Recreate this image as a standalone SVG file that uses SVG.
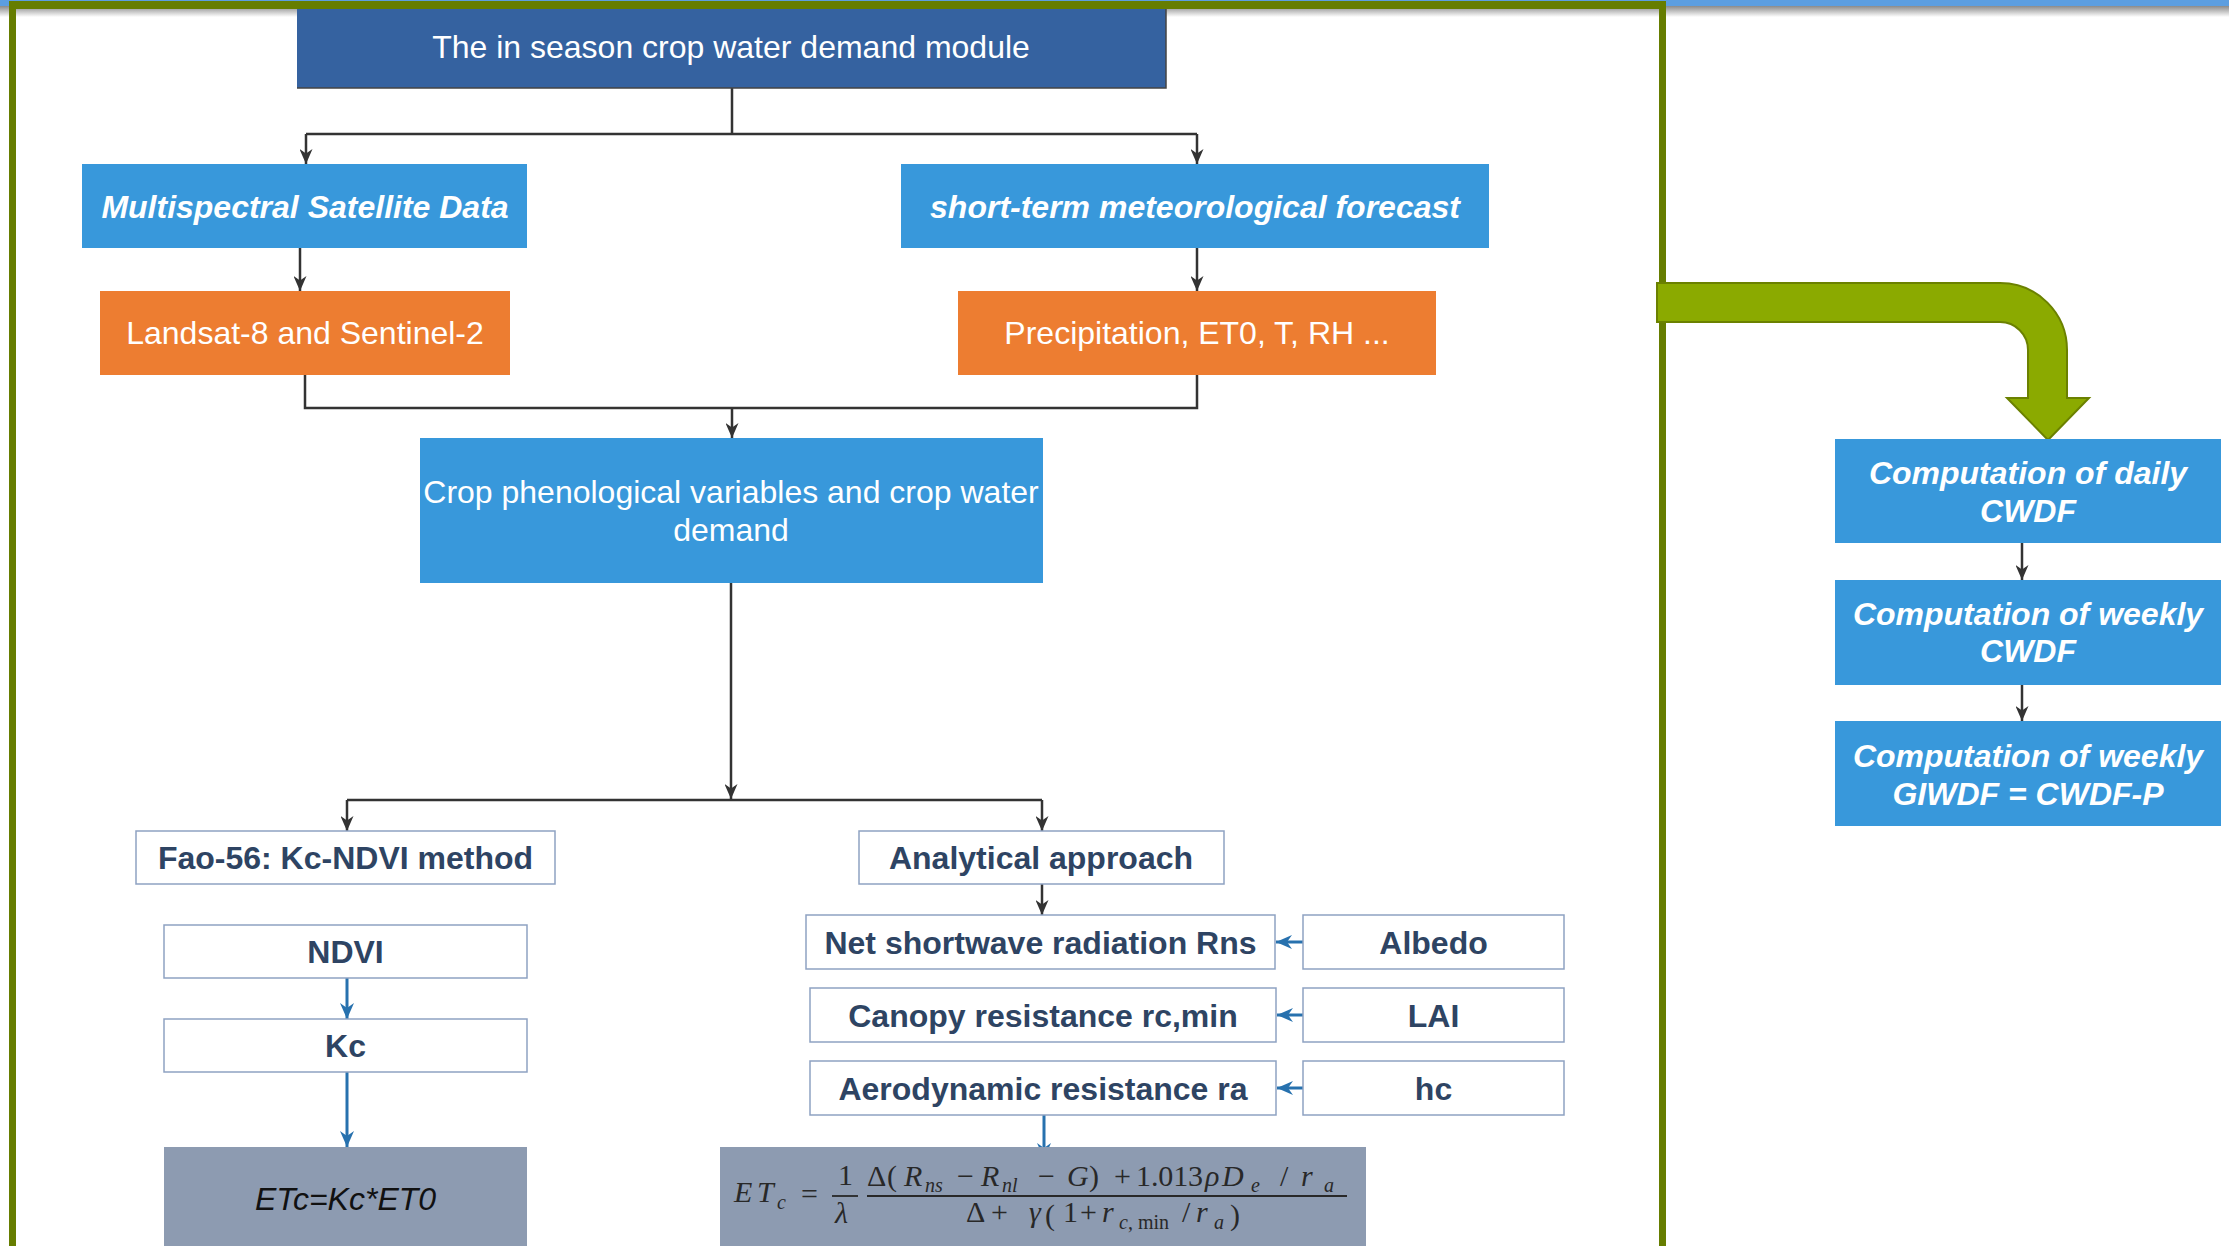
<svg xmlns="http://www.w3.org/2000/svg" width="2229" height="1246" viewBox="0 0 2229 1246">
<defs>
<linearGradient id="shadow" x1="0" y1="0" x2="0" y2="1">
<stop offset="0" stop-color="#8a8a8a"/>
<stop offset="1" stop-color="#ffffff"/>
</linearGradient>
<marker id="ah" markerUnits="userSpaceOnUse" markerWidth="16" markerHeight="13" refX="15" refY="6.5" orient="auto">
<path d="M0,0 L15,6.5 L0,13 L4.5,6.5 Z" fill="#333333"/>
</marker>
<marker id="ahb" markerUnits="userSpaceOnUse" markerWidth="17" markerHeight="14" refX="16" refY="7" orient="auto">
<path d="M0,0 L16,7 L0,14 L5,7 Z" fill="#2771AE"/>
</marker>
</defs>
<style>
.t{font-family:"Liberation Sans",Arial,sans-serif;font-size:32px;text-anchor:middle}
.w{fill:#ffffff}
.bi{font-weight:bold;font-style:italic}
.b{font-weight:bold;fill:#2E4463}
.wb{fill:#ffffff;stroke:#8EA2C2;stroke-width:1.5}
.blue{fill:#3898DB}
.org{fill:#ED7D31}
.gray{fill:#8D9BB1}
.c{fill:none;stroke:#333333;stroke-width:2.5}
.cb{fill:none;stroke:#2771AE;stroke-width:3}
.f{font-family:"Liberation Serif","Times New Roman",serif;font-size:30px;fill:#282828}
.fs{font-family:"Liberation Serif","Times New Roman",serif;font-size:20px;fill:#282828;font-style:italic}
.i{font-style:italic}
</style>
<rect x="0" y="0" width="2229" height="1246" fill="#ffffff"/>
<rect x="0" y="6" width="2229" height="11" fill="url(#shadow)"/>
<rect x="0" y="0" width="2229" height="6" fill="#5C9EE0"/>
<g id="frame">
<rect x="9" y="1" width="1657" height="8" fill="#667D00"/>
<rect x="9" y="1" width="7" height="1245" fill="#667D00"/>
<rect x="1659" y="1" width="7" height="1245" fill="#667D00"/>
</g>
<g id="bigarrow">
<path d="M1657,283 H2000 A67,67 0 0 1 2067,350 V398 H2089 L2048,440 L2007,398 H2028 V350 A28,28 0 0 0 2000,322 H1657 Z" fill="#8BAA00" stroke="#6B8100" stroke-width="2"/>
</g>
<g id="connectors">
<path class="c" d="M732,88 V134 M306,134 H1197"/>
<path class="c" d="M306,134 V164" marker-end="url(#ah)"/>
<path class="c" d="M1197,134 V164" marker-end="url(#ah)"/>
<path class="c" d="M300,248 V291" marker-end="url(#ah)"/>
<path class="c" d="M1197,248 V291" marker-end="url(#ah)"/>
<path class="c" d="M305,375 V408 H1197 V375"/>
<path class="c" d="M732,408 V438" marker-end="url(#ah)"/>
<path class="c" d="M731,583 V799" marker-end="url(#ah)"/>
<path class="c" d="M347,800 H1042"/>
<path class="c" d="M347,800 V831" marker-end="url(#ah)"/>
<path class="c" d="M1042,800 V831" marker-end="url(#ah)"/>
<path class="c" d="M1042,884 V915" marker-end="url(#ah)"/>
<path class="cb" d="M347,978 V1019" marker-end="url(#ahb)"/>
<path class="cb" d="M347,1072 V1147" marker-end="url(#ahb)"/>
<path class="cb" d="M1303,942 H1276" marker-end="url(#ahb)"/>
<path class="cb" d="M1303,1015 H1277" marker-end="url(#ahb)"/>
<path class="cb" d="M1303,1088 H1277" marker-end="url(#ahb)"/>
<path class="cb" d="M1044,1115 V1159" marker-end="url(#ahb)"/>
<path class="c" d="M2022,543 V580" marker-end="url(#ah)"/>
<path class="c" d="M2022,685 V721" marker-end="url(#ah)"/>
</g>
<g id="title">
<rect x="297" y="9" width="869" height="79" fill="#3562A0"/>
<path d="M1166,9 V88 H297" fill="none" stroke="#444444" stroke-width="1.5"/>
<text class="t w" x="731" y="58">The in season crop water demand module</text>
</g>
<g id="multispectral">
<rect class="blue" x="82" y="164" width="445" height="84"/>
<text class="t w bi" x="305" y="218">Multispectral Satellite Data</text>
</g>
<g id="forecast">
<rect class="blue" x="901" y="164" width="588" height="84"/>
<text class="t w bi" x="1195" y="218">short-term meteorological forecast</text>
</g>
<g id="landsat">
<rect class="org" x="100" y="291" width="410" height="84"/>
<text class="t w" x="305" y="344">Landsat-8 and Sentinel-2</text>
</g>
<g id="precip">
<rect class="org" x="958" y="291" width="478" height="84"/>
<text class="t w" x="1197" y="344">Precipitation, ET0, T, RH ...</text>
</g>
<g id="crop">
<rect class="blue" x="420" y="438" width="623" height="145"/>
<text class="t w" x="731" y="503">Crop phenological variables and crop water</text>
<text class="t w" x="731" y="541">demand</text>
</g>
<g id="fao">
<rect class="wb" x="136" y="831" width="419" height="53"/>
<text class="t b" x="345.5" y="869">Fao-56: Kc-NDVI method</text>
</g>
<g id="analytical">
<rect class="wb" x="859" y="831" width="365" height="53"/>
<text class="t b" x="1041" y="869">Analytical approach</text>
</g>
<g id="ndvi">
<rect class="wb" x="164" y="925" width="363" height="53"/>
<text class="t b" x="345.5" y="963">NDVI</text>
</g>
<g id="kc">
<rect class="wb" x="164" y="1019" width="363" height="53"/>
<text class="t b" x="345.5" y="1057">Kc</text>
</g>
<g id="etc">
<rect class="gray" x="164" y="1147" width="363" height="99"/>
<text class="t i" x="345.5" y="1210" fill="#111111">ETc=Kc*ET0</text>
</g>
<g id="net">
<rect class="wb" x="806" y="915" width="469" height="54"/>
<text class="t b" x="1040.5" y="954">Net shortwave radiation Rns</text>
</g>
<g id="albedo">
<rect class="wb" x="1303" y="915" width="261" height="54"/>
<text class="t b" x="1433.5" y="954">Albedo</text>
</g>
<g id="canopy">
<rect class="wb" x="810" y="988" width="466" height="54"/>
<text class="t b" x="1043" y="1027">Canopy resistance rc,min</text>
</g>
<g id="lai">
<rect class="wb" x="1303" y="988" width="261" height="54"/>
<text class="t b" x="1433.5" y="1027">LAI</text>
</g>
<g id="aero">
<rect class="wb" x="810" y="1061" width="466" height="54"/>
<text class="t b" x="1043" y="1100">Aerodynamic resistance ra</text>
</g>
<g id="hc">
<rect class="wb" x="1303" y="1061" width="261" height="54"/>
<text class="t b" x="1433.5" y="1100">hc</text>
</g>
<g id="formula">
<rect class="gray" x="720" y="1147" width="646" height="99"/>
<text class="f i" x="734" y="1202">E</text>
<text class="f i" x="757" y="1202">T</text>
<text class="fs" x="777" y="1209">c</text>
<text class="f" x="801" y="1204">=</text>
<text class="f" x="838" y="1185">1</text>
<text class="f i" x="835" y="1223">λ</text>
<line x1="832" y1="1196" x2="858" y2="1196" stroke="#282828" stroke-width="1.8"/>
<text class="f" x="867" y="1186">Δ</text>
<text class="f" x="887" y="1186">(</text>
<text class="f i" x="904" y="1186">R</text>
<text class="fs" x="925" y="1192">ns</text>
<text class="f" x="957" y="1186">−</text>
<text class="f i" x="981" y="1186">R</text>
<text class="fs" x="1002" y="1192">nl</text>
<text class="f" x="1038" y="1186">−</text>
<text class="f i" x="1067" y="1186">G</text>
<text class="f" x="1089" y="1186">)</text>
<text class="f" x="1114" y="1186">+</text>
<text class="f" x="1136" y="1186" textLength="67" lengthAdjust="spacing">1.013</text>
<text class="f i" x="1205" y="1186">ρ</text>
<text class="f i" x="1222" y="1186">D</text>
<text class="fs" x="1251" y="1192">e</text>
<text class="f" x="1280" y="1186" fill="#6f6f6f">/</text>
<text class="f i" x="1301" y="1186">r</text>
<text class="fs" x="1324" y="1192">a</text>
<line x1="867" y1="1196" x2="1347" y2="1196" stroke="#282828" stroke-width="2"/>
<text class="f" x="966" y="1222">Δ</text>
<text class="f" x="991" y="1222">+</text>
<text class="f i" x="1029" y="1222">γ</text>
<text class="f" x="1045" y="1225" font-size="38">(</text>
<text class="f" x="1063" y="1222">1</text>
<text class="f" x="1080" y="1222">+</text>
<text class="f i" x="1102" y="1222">r</text>
<text class="fs" x="1119" y="1229" font-size="19">c<tspan font-style="normal">, min</tspan></text>
<text class="f" x="1182" y="1222" fill="#6f6f6f">/</text>
<text class="f i" x="1196" y="1222">r</text>
<text class="fs" x="1214" y="1229">a</text>
<text class="f" x="1230" y="1225" font-size="38">)</text>
</g>
<g id="daily">
<rect class="blue" x="1835" y="439" width="386" height="104"/>
<text class="t w bi" x="2028" y="484">Computation of daily</text>
<text class="t w bi" x="2028" y="522">CWDF</text>
</g>
<g id="weekly">
<rect class="blue" x="1835" y="580" width="386" height="105"/>
<text class="t w bi" x="2028" y="625">Computation of weekly</text>
<text class="t w bi" x="2028" y="662">CWDF</text>
</g>
<g id="giwdf">
<rect class="blue" x="1835" y="721" width="386" height="105"/>
<text class="t w bi" x="2028" y="767">Computation of weekly</text>
<text class="t w bi" x="2028" y="805">GIWDF = CWDF-P</text>
</g>
</svg>
